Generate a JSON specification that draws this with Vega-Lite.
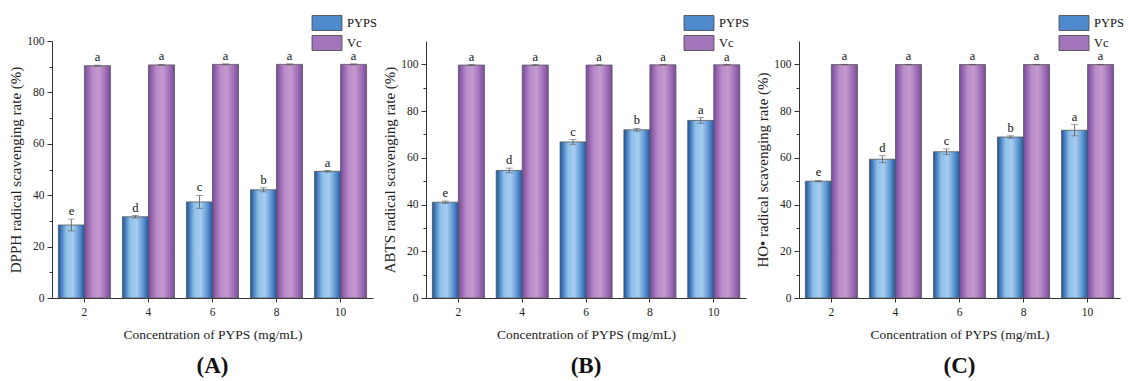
{
  "$schema": "https://vega.github.io/schema/vega-lite/v6.json",
  "padding": {"left": 8, "top": 15, "right": 2, "bottom": 0},
  "background": "white",
  "config": {
    "font": "Liberation Serif",
    "view": {"stroke": null},
    "axis": {"labelFont": "Liberation Serif", "titleFont": "Liberation Serif", "labelFontSize": 11.5, "titleFontWeight": "normal", "labelColor": "#222", "titleColor": "#222", "domainColor": "#333", "tickColor": "#333", "grid": false},
    "axisX": {"titleFontSize": 13.5, "labelPadding": 4, "titlePadding": 10, "tickSize": 4, "labelAngle": 0},
    "axisY": {"titleFontSize": 15, "labelPadding": 3, "titlePadding": 3},
    "legend": {"labelFont": "Liberation Serif", "labelFontSize": 12.5, "labelColor": "#111"},
    "title": {"font": "Liberation Serif", "fontSize": 23, "fontWeight": "bold", "color": "#111", "orient": "bottom", "offset": 14}
  },
  "datasets": {
    "d": [
      {"panel": "A", "conc": 2, "series": "PYPS", "value": 28.4, "lo": 26.1, "hi": 30.7, "label": "e"},
      {"panel": "A", "conc": 4, "series": "PYPS", "value": 31.6, "lo": 31.1, "hi": 32.1, "label": "d"},
      {"panel": "A", "conc": 6, "series": "PYPS", "value": 37.4, "lo": 34.9, "hi": 39.9, "label": "c"},
      {"panel": "A", "conc": 8, "series": "PYPS", "value": 42.1, "lo": 41.3, "hi": 42.9, "label": "b"},
      {"panel": "A", "conc": 10, "series": "PYPS", "value": 49.3, "lo": 49.0, "hi": 49.6, "label": "a"},
      {"panel": "A", "conc": 2, "series": "Vc", "value": 90.4, "lo": 90.2, "hi": 90.6, "label": "a"},
      {"panel": "A", "conc": 4, "series": "Vc", "value": 90.7, "lo": 90.5, "hi": 90.9, "label": "a"},
      {"panel": "A", "conc": 6, "series": "Vc", "value": 90.9, "lo": 90.7, "hi": 91.1, "label": "a"},
      {"panel": "A", "conc": 8, "series": "Vc", "value": 90.9, "lo": 90.7, "hi": 91.1, "label": "a"},
      {"panel": "A", "conc": 10, "series": "Vc", "value": 90.9, "lo": 90.7, "hi": 91.1, "label": "a"},
      {"panel": "B", "conc": 2, "series": "PYPS", "value": 41.0, "lo": 40.5, "hi": 41.5, "label": "e"},
      {"panel": "B", "conc": 4, "series": "PYPS", "value": 54.6, "lo": 53.6, "hi": 55.6, "label": "d"},
      {"panel": "B", "conc": 6, "series": "PYPS", "value": 66.8, "lo": 65.8, "hi": 67.8, "label": "c"},
      {"panel": "B", "conc": 8, "series": "PYPS", "value": 72.0, "lo": 71.4, "hi": 72.6, "label": "b"},
      {"panel": "B", "conc": 10, "series": "PYPS", "value": 76.0, "lo": 74.8, "hi": 77.2, "label": "a"},
      {"panel": "B", "conc": 2, "series": "Vc", "value": 99.7, "lo": 99.5, "hi": 99.9, "label": "a"},
      {"panel": "B", "conc": 4, "series": "Vc", "value": 99.7, "lo": 99.5, "hi": 99.9, "label": "a"},
      {"panel": "B", "conc": 6, "series": "Vc", "value": 99.7, "lo": 99.6, "hi": 99.8, "label": "a"},
      {"panel": "B", "conc": 8, "series": "Vc", "value": 99.8, "lo": 99.7, "hi": 99.9, "label": "a"},
      {"panel": "B", "conc": 10, "series": "Vc", "value": 99.8, "lo": 99.7, "hi": 99.9, "label": "a"},
      {"panel": "C", "conc": 2, "series": "PYPS", "value": 50.0, "lo": 49.7, "hi": 50.3, "label": "e"},
      {"panel": "C", "conc": 4, "series": "PYPS", "value": 59.4, "lo": 57.9, "hi": 60.9, "label": "d"},
      {"panel": "C", "conc": 6, "series": "PYPS", "value": 62.6, "lo": 61.4, "hi": 63.8, "label": "c"},
      {"panel": "C", "conc": 8, "series": "PYPS", "value": 68.9, "lo": 68.4, "hi": 69.4, "label": "b"},
      {"panel": "C", "conc": 10, "series": "PYPS", "value": 71.8, "lo": 69.4, "hi": 74.2, "label": "a"},
      {"panel": "C", "conc": 2, "series": "Vc", "value": 99.9, "lo": 99.8, "hi": 100.0, "label": "a"},
      {"panel": "C", "conc": 4, "series": "Vc", "value": 99.9, "lo": 99.8, "hi": 100.0, "label": "a"},
      {"panel": "C", "conc": 6, "series": "Vc", "value": 99.9, "lo": 99.8, "hi": 100.0, "label": "a"},
      {"panel": "C", "conc": 8, "series": "Vc", "value": 99.9, "lo": 99.8, "hi": 100.0, "label": "a"},
      {"panel": "C", "conc": 10, "series": "Vc", "value": 99.9, "lo": 99.8, "hi": 100.0, "label": "a"}
    ]
  },
  "data": {"name": "d"},
  "resolve": {"scale": {"fill": "independent", "y": "independent"}, "legend": {"fill": "independent"}},
  "bounds": "flush",
  "spacing": 53,
  "hconcat": [
    {
      "width": 321, "height": 257,
      "title": {"text": "(A)"},
      "transform": [{"filter": "datum.panel === 'A'"}],
      "encoding": {
        "x": {"field": "conc", "type": "ordinal", "scale": {"paddingInner": 0.1875, "paddingOuter": 0.1}, "axis": {"title": "Concentration of PYPS (mg/mL)"}},
        "xOffset": {"field": "series", "type": "nominal", "scale": {"domain": ["PYPS", "Vc"], "paddingInner": 0, "paddingOuter": 0}},
        "y": {"field": "value", "type": "quantitative", "scale": {"domain": [0, 100], "nice": false}, "axis": {"title": "DPPH radical scavenging rate (%)", "values": [0, 10, 20, 30, 40, 50, 60, 70, 80, 90, 100], "labelExpr": "datum.value % 20 === 0 ? datum.label : ''", "tickSize": {"condition": {"test": "datum.value % 20 === 0", "value": 5}, "value": 3}}}
      },
      "layer": [
        {
          "transform": [{"filter": "datum.series === 'PYPS'"}],
          "mark": {"type": "bar", "stroke": "#555", "strokeWidth": 0.8, "color": {"gradient": "linear", "x1": 0, "y1": 0, "x2": 1, "y2": 0, "stops": [{"offset": 0, "color": "#1a55a0"}, {"offset": 0.3, "color": "#8fc0ea"}, {"offset": 0.55, "color": "#a6cdef"}, {"offset": 0.8, "color": "#5d95d2"}, {"offset": 1, "color": "#1f5aa5"}]}},
          "encoding": {}
        },
        {
          "transform": [{"filter": "datum.series === 'Vc'"}],
          "mark": {"type": "bar", "stroke": "#555", "strokeWidth": 0.8, "color": {"gradient": "linear", "x1": 0, "y1": 0, "x2": 1, "y2": 0, "stops": [{"offset": 0, "color": "#7a4a9c"}, {"offset": 0.3, "color": "#b88ac8"}, {"offset": 0.55, "color": "#c49acf"}, {"offset": 0.8, "color": "#a070b8"}, {"offset": 1, "color": "#7d4a9e"}]}},
          "encoding": {}
        },
        {
          "mark": {"type": "square", "opacity": 0},
          "encoding": {
            "fill": {"field": "series", "type": "nominal", "scale": {"domain": ["PYPS", "Vc"], "range": ["#4f8bcc", "#a274bc"]}, "legend": {"title": null, "orient": "none", "legendX": 267, "legendY": -26, "symbolType": "M-2,-1H2V1H-2Z", "symbolSize": 225, "symbolStrokeColor": "#444", "symbolStrokeWidth": 0.8, "rowPadding": 0, "labelOffset": 12, "padding": 0, "symbolOpacity": 1}}
          }
        },
        {
          "mark": {"type": "rule", "color": "#555", "strokeWidth": 0.8},
          "encoding": {"y": {"field": "lo", "type": "quantitative"}, "y2": {"field": "hi"}}
        },
        {
          "mark": {"type": "tick", "color": "#555", "thickness": 0.8, "size": 7, "orient": "horizontal"},
          "encoding": {"y": {"field": "lo", "type": "quantitative"}}
        },
        {
          "mark": {"type": "tick", "color": "#555", "thickness": 0.8, "size": 7, "orient": "horizontal"},
          "encoding": {"y": {"field": "hi", "type": "quantitative"}}
        },
        {
          "mark": {"type": "text", "dy": -8, "fontSize": 12.5, "font": "Liberation Serif", "color": "#111"},
          "encoding": {"y": {"field": "hi", "type": "quantitative"}, "text": {"field": "label"}}
        }
      ]
    },
    {
      "width": 320, "height": 257,
      "title": {"text": "(B)"},
      "transform": [{"filter": "datum.panel === 'B'"}],
      "encoding": {
        "x": {"field": "conc", "type": "ordinal", "scale": {"paddingInner": 0.1875, "paddingOuter": 0.1}, "axis": {"title": "Concentration of PYPS (mg/mL)"}},
        "xOffset": {"field": "series", "type": "nominal", "scale": {"domain": ["PYPS", "Vc"], "paddingInner": 0, "paddingOuter": 0}},
        "y": {"field": "value", "type": "quantitative", "scale": {"domain": [0, 110], "nice": false}, "axis": {"title": "ABTS radical scavenging rate (%)", "values": [0, 10, 20, 30, 40, 50, 60, 70, 80, 90, 100], "labelExpr": "datum.value % 20 === 0 ? datum.label : ''", "tickSize": {"condition": {"test": "datum.value % 20 === 0", "value": 5}, "value": 3}}}
      },
      "layer": [
        {
          "transform": [{"filter": "datum.series === 'PYPS'"}],
          "mark": {"type": "bar", "stroke": "#555", "strokeWidth": 0.8, "color": {"gradient": "linear", "x1": 0, "y1": 0, "x2": 1, "y2": 0, "stops": [{"offset": 0, "color": "#1a55a0"}, {"offset": 0.3, "color": "#8fc0ea"}, {"offset": 0.55, "color": "#a6cdef"}, {"offset": 0.8, "color": "#5d95d2"}, {"offset": 1, "color": "#1f5aa5"}]}},
          "encoding": {}
        },
        {
          "transform": [{"filter": "datum.series === 'Vc'"}],
          "mark": {"type": "bar", "stroke": "#555", "strokeWidth": 0.8, "color": {"gradient": "linear", "x1": 0, "y1": 0, "x2": 1, "y2": 0, "stops": [{"offset": 0, "color": "#7a4a9c"}, {"offset": 0.3, "color": "#b88ac8"}, {"offset": 0.55, "color": "#c49acf"}, {"offset": 0.8, "color": "#a070b8"}, {"offset": 1, "color": "#7d4a9e"}]}},
          "encoding": {}
        },
        {
          "mark": {"type": "square", "opacity": 0},
          "encoding": {
            "fill": {"field": "series", "type": "nominal", "scale": {"domain": ["PYPS", "Vc"], "range": ["#4f8bcc", "#a274bc"]}, "legend": {"title": null, "orient": "none", "legendX": 265, "legendY": -26, "symbolType": "M-2,-1H2V1H-2Z", "symbolSize": 225, "symbolStrokeColor": "#444", "symbolStrokeWidth": 0.8, "rowPadding": 0, "labelOffset": 12, "padding": 0, "symbolOpacity": 1}}
          }
        },
        {
          "mark": {"type": "rule", "color": "#555", "strokeWidth": 0.8},
          "encoding": {"y": {"field": "lo", "type": "quantitative"}, "y2": {"field": "hi"}}
        },
        {
          "mark": {"type": "tick", "color": "#555", "thickness": 0.8, "size": 7, "orient": "horizontal"},
          "encoding": {"y": {"field": "lo", "type": "quantitative"}}
        },
        {
          "mark": {"type": "tick", "color": "#555", "thickness": 0.8, "size": 7, "orient": "horizontal"},
          "encoding": {"y": {"field": "hi", "type": "quantitative"}}
        },
        {
          "mark": {"type": "text", "dy": -8, "fontSize": 12.5, "font": "Liberation Serif", "color": "#111"},
          "encoding": {"y": {"field": "hi", "type": "quantitative"}, "text": {"field": "label"}}
        }
      ]
    },
    {
      "width": 321, "height": 257,
      "title": {"text": "(C)"},
      "transform": [{"filter": "datum.panel === 'C'"}],
      "encoding": {
        "x": {"field": "conc", "type": "ordinal", "scale": {"paddingInner": 0.1875, "paddingOuter": 0.1}, "axis": {"title": "Concentration of PYPS (mg/mL)"}},
        "xOffset": {"field": "series", "type": "nominal", "scale": {"domain": ["PYPS", "Vc"], "paddingInner": 0, "paddingOuter": 0}},
        "y": {"field": "value", "type": "quantitative", "scale": {"domain": [0, 110], "nice": false}, "axis": {"title": "HO• radical scavenging rate (%)", "values": [0, 10, 20, 30, 40, 50, 60, 70, 80, 90, 100], "labelExpr": "datum.value % 20 === 0 ? datum.label : ''", "tickSize": {"condition": {"test": "datum.value % 20 === 0", "value": 5}, "value": 3}}}
      },
      "layer": [
        {
          "transform": [{"filter": "datum.series === 'PYPS'"}],
          "mark": {"type": "bar", "stroke": "#555", "strokeWidth": 0.8, "color": {"gradient": "linear", "x1": 0, "y1": 0, "x2": 1, "y2": 0, "stops": [{"offset": 0, "color": "#1a55a0"}, {"offset": 0.3, "color": "#8fc0ea"}, {"offset": 0.55, "color": "#a6cdef"}, {"offset": 0.8, "color": "#5d95d2"}, {"offset": 1, "color": "#1f5aa5"}]}},
          "encoding": {}
        },
        {
          "transform": [{"filter": "datum.series === 'Vc'"}],
          "mark": {"type": "bar", "stroke": "#555", "strokeWidth": 0.8, "color": {"gradient": "linear", "x1": 0, "y1": 0, "x2": 1, "y2": 0, "stops": [{"offset": 0, "color": "#7a4a9c"}, {"offset": 0.3, "color": "#b88ac8"}, {"offset": 0.55, "color": "#c49acf"}, {"offset": 0.8, "color": "#a070b8"}, {"offset": 1, "color": "#7d4a9e"}]}},
          "encoding": {}
        },
        {
          "mark": {"type": "square", "opacity": 0},
          "encoding": {
            "fill": {"field": "series", "type": "nominal", "scale": {"domain": ["PYPS", "Vc"], "range": ["#4f8bcc", "#a274bc"]}, "legend": {"title": null, "orient": "none", "legendX": 267, "legendY": -26, "symbolType": "M-2,-1H2V1H-2Z", "symbolSize": 225, "symbolStrokeColor": "#444", "symbolStrokeWidth": 0.8, "rowPadding": 0, "labelOffset": 12, "padding": 0, "symbolOpacity": 1}}
          }
        },
        {
          "mark": {"type": "rule", "color": "#555", "strokeWidth": 0.8},
          "encoding": {"y": {"field": "lo", "type": "quantitative"}, "y2": {"field": "hi"}}
        },
        {
          "mark": {"type": "tick", "color": "#555", "thickness": 0.8, "size": 7, "orient": "horizontal"},
          "encoding": {"y": {"field": "lo", "type": "quantitative"}}
        },
        {
          "mark": {"type": "tick", "color": "#555", "thickness": 0.8, "size": 7, "orient": "horizontal"},
          "encoding": {"y": {"field": "hi", "type": "quantitative"}}
        },
        {
          "mark": {"type": "text", "dy": -8, "fontSize": 12.5, "font": "Liberation Serif", "color": "#111"},
          "encoding": {"y": {"field": "hi", "type": "quantitative"}, "text": {"field": "label"}}
        }
      ]
    }
  ]
}
